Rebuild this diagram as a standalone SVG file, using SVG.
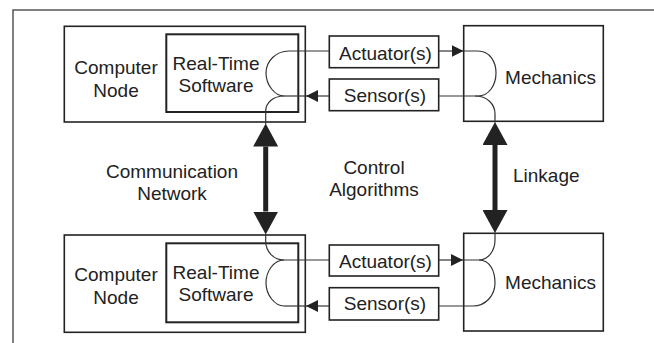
<svg xmlns="http://www.w3.org/2000/svg" width="654" height="343" viewBox="0 0 654 343">
<defs>
<style>
.frame{fill:none;stroke:#555;stroke-width:1.5}
.box{fill:#fff;stroke:#222;stroke-width:1.6}
.inner{fill:none;stroke:#222;stroke-width:2}
.wire{fill:none;stroke:#333;stroke-width:1.2}
.thick{fill:none;stroke:#222;stroke-width:5}
text{font-family:"Liberation Sans",Arial,Helvetica,sans-serif;font-size:19px;fill:#222;text-anchor:middle}
</style>
<marker id="sm" markerUnits="userSpaceOnUse" viewBox="0 0 12 12" markerWidth="12" markerHeight="12" refX="12" refY="6" orient="auto">
<path d="M0,0 L12,6 L0,12 z" fill="#222"/>
</marker>
<marker id="big" markerUnits="userSpaceOnUse" viewBox="0 0 23 25" markerWidth="23" markerHeight="25" refX="0" refY="12.5" orient="auto-start-reverse">
<path d="M0,0 L23,12.5 L0,25 z" fill="#222"/>
</marker>
</defs>
<rect width="654" height="343" fill="#fff"/>
<path class="frame" d="M13,343 V10 H654"/>

<g id="computer-top">
<rect class="box" x="64.3" y="26.3" width="241" height="95.7"/>
<text x="116" y="74">Computer</text>
<text x="116" y="96.5">Node</text>
</g>
<g id="software-top">
<rect class="inner" x="166.3" y="34.3" width="132" height="77.7"/>
<text x="216" y="69.5">Real-Time</text>
<text x="216" y="92">Software</text>
</g>
<g id="actuator-top">
<rect class="box" x="329.3" y="36" width="109.4" height="31.7"/>
<text x="385.5" y="59.5">Actuator(s)</text>
</g>
<g id="sensor-top">
<rect class="box" x="329.3" y="79" width="109.4" height="31.7"/>
<text x="385" y="101.5">Sensor(s)</text>
</g>
<g id="mechanics-top">
<rect class="box" x="463.7" y="25.7" width="139.6" height="95.6"/>
</g>

<g id="computer-bottom">
<rect class="box" x="64.3" y="235" width="241" height="97.3"/>
<text x="116" y="280.5">Computer</text>
<text x="116" y="303.5">Node</text>
</g>
<g id="software-bottom">
<rect class="inner" x="166.3" y="243.3" width="132" height="79"/>
<text x="216" y="278.5">Real-Time</text>
<text x="216" y="301">Software</text>
</g>
<g id="actuator-bottom">
<rect class="box" x="329.3" y="245" width="109.4" height="31"/>
<text x="385.5" y="267.5">Actuator(s)</text>
</g>
<g id="sensor-bottom">
<rect class="box" x="329.3" y="287.7" width="109.4" height="32.3"/>
<text x="385" y="310">Sensor(s)</text>
</g>
<g id="mechanics-bottom">
<rect class="box" x="463.7" y="233.3" width="139.6" height="97.7"/>
</g>

<g id="connectors">
<!-- top left -->
<path class="wire" d="M329.3,51 H289 C276,51 266,61 266,73 C266,85 275,96 284,96"/>
<path class="wire" d="M329.3,96 H306" marker-end="url(#sm)"/>
<path class="wire" d="M306,96 H284"/>
<path class="wire" d="M284,96 C273,96 265.7,103 265.7,111 V124"/>
<!-- top right -->
<path class="wire" d="M438.7,51 H463.5" marker-end="url(#sm)"/>
<path class="wire" d="M463.5,51 H478 C490,51 496,62 496,73 C496,85 489,96 478,96 H438.7"/>
<path class="wire" d="M475,96 C487,96 495,104 495,114 V122.5"/>
<!-- bottom left -->
<path class="wire" d="M265.7,234 V241 C265.7,252 274,260 284,260 H329.3"/>
<path class="wire" d="M284,260 C274,260 266,271 266,283 C266,295 275,306 284,306"/>
<path class="wire" d="M329.3,306 H306" marker-end="url(#sm)"/>
<path class="wire" d="M306,306 H284"/>
<!-- bottom right -->
<path class="wire" d="M438.7,260 H463" marker-end="url(#sm)"/>
<path class="wire" d="M495,232.5 V240 C495,251 488,260 479,260 H463"/>
<path class="wire" d="M479,260 C490,260 495,271 495,283 C495,295 486,306 473,306 H438.7"/>
<!-- thick bidirectional -->
<path class="thick" d="M265.7,146.5 V211.5" marker-start="url(#big)" marker-end="url(#big)"/>
<path class="thick" d="M495,145 V210" marker-start="url(#big)" marker-end="url(#big)"/>
</g>

<g id="labels">
<text x="550.5" y="83.5">Mechanics</text>
<text x="550.5" y="288.5">Mechanics</text>
<text x="172" y="177.5">Communication</text>
<text x="172" y="199.5">Network</text>
<text x="374" y="174">Control</text>
<text x="374" y="196">Algorithms</text>
<text x="513" y="181.5" style="text-anchor:start">Linkage</text>
</g>
</svg>
